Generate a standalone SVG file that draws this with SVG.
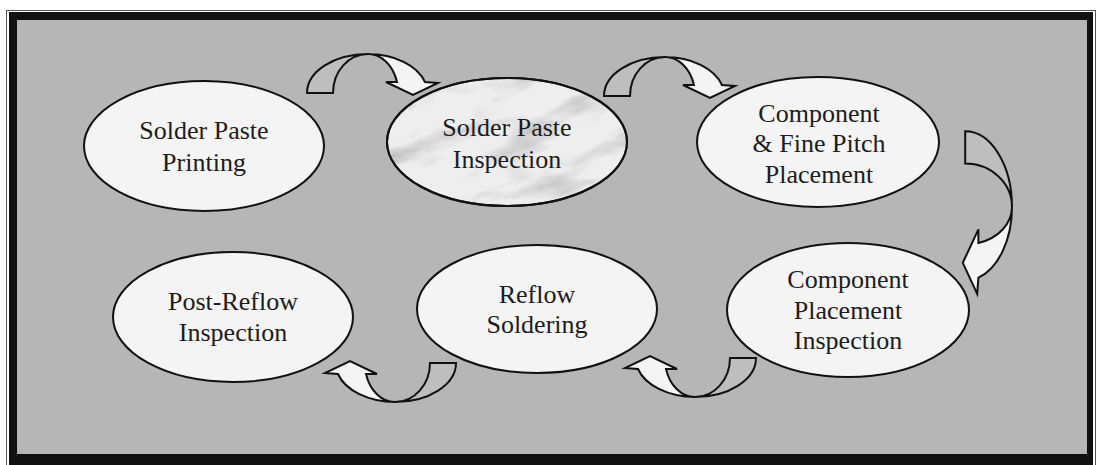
<svg xmlns="http://www.w3.org/2000/svg" xmlns:xlink="http://www.w3.org/1999/xlink" width="1098" height="465" viewBox="0 0 1098 465">
<style>
.node ellipse{fill:#f4f4f4;stroke:#111;stroke-width:2}
.node text{font-family:'Liberation Serif','DejaVu Serif',serif;font-size:26px;fill:#1c1c1c;text-anchor:middle}
.tail{fill:#bebebe;stroke:#111;stroke-width:2;stroke-linejoin:miter;vector-effect:non-scaling-stroke}
.head{fill:#f4f4f4;stroke:#111;stroke-width:2;stroke-linejoin:miter;vector-effect:non-scaling-stroke}
</style>
<defs>
<filter id="marble" x="0" y="0" width="100%" height="100%">
<feTurbulence type="fractalNoise" baseFrequency="0.012 0.035" numOctaves="5" seed="11" result="n"/>
<feColorMatrix in="n" type="matrix" values="0 0 0 0 0.4  0 0 0 0 0.4  0 0 0 0 0.4  1.8 0 0 0 -0.88"/>
</filter>
<clipPath id="e2clip"><ellipse cx="507" cy="142" rx="120" ry="64"/></clipPath>
<g id="curvedArrow">
<path class="tail" d="M -61 39 A 61 39 0 0 1 0 0 A 35 39 0 0 0 -35 39 Z"/>
<path class="head" d="M 0 0 A 59.4 39 0 0 1 57 28 L 70 29 L 45 41 L 18 28 L 29 28 A 30.2 39 0 0 0 0 0 Z"/>
</g>
</defs>
<rect x="0" y="0" width="1098" height="465" fill="#ffffff"/>
<rect x="6.5" y="10.5" width="1089" height="470" fill="none" stroke="#555" stroke-width="1"/>
<rect x="9" y="12" width="1084" height="460" fill="#111"/>
<rect x="17" y="20" width="1070" height="434" fill="#b6b6b6"/>

<g id="connectors">
<use xlink:href="#curvedArrow" transform="translate(368,54)"/>
<use xlink:href="#curvedArrow" transform="translate(665,57)"/>
<use xlink:href="#curvedArrow" transform="translate(1012,207) rotate(90) scale(1.24,1.2)"/>
<use xlink:href="#curvedArrow" transform="translate(695,397) rotate(180)"/>
<use xlink:href="#curvedArrow" transform="translate(395,402) rotate(180)"/>
</g>

<g id="n1" class="node">
<ellipse cx="204" cy="146" rx="120" ry="65"/>
<text x="204" y="139">Solder Paste</text>
<text x="204" y="171">Printing</text>
</g>
<g id="n2" class="node">
<ellipse cx="507" cy="142" rx="120" ry="64" style="fill:#eeeeee"/>
<g clip-path="url(#e2clip)">
<rect x="357" y="38" width="300" height="208" filter="url(#marble)" transform="rotate(-15 507 142)"/>
</g>
<ellipse cx="507" cy="142" rx="120" ry="64" style="fill:none"/>
<text x="507" y="136">Solder Paste</text>
<text x="507" y="168">Inspection</text>
</g>
<g id="n3" class="node">
<ellipse cx="818" cy="142" rx="121" ry="65"/>
<text x="819" y="122">Component</text>
<text x="819" y="152">&amp; Fine Pitch</text>
<text x="819" y="183">Placement</text>
</g>
<g id="n4" class="node">
<ellipse cx="848" cy="310" rx="121" ry="67"/>
<text x="848" y="288">Component</text>
<text x="848" y="319">Placement</text>
<text x="848" y="349">Inspection</text>
</g>
<g id="n5" class="node">
<ellipse cx="537" cy="309" rx="120" ry="64"/>
<text x="537" y="303">Reflow</text>
<text x="537" y="333">Soldering</text>
</g>
<g id="n6" class="node">
<ellipse cx="233" cy="317" rx="120" ry="65"/>
<text x="233" y="310">Post-Reflow</text>
<text x="233" y="341">Inspection</text>
</g>
</svg>
